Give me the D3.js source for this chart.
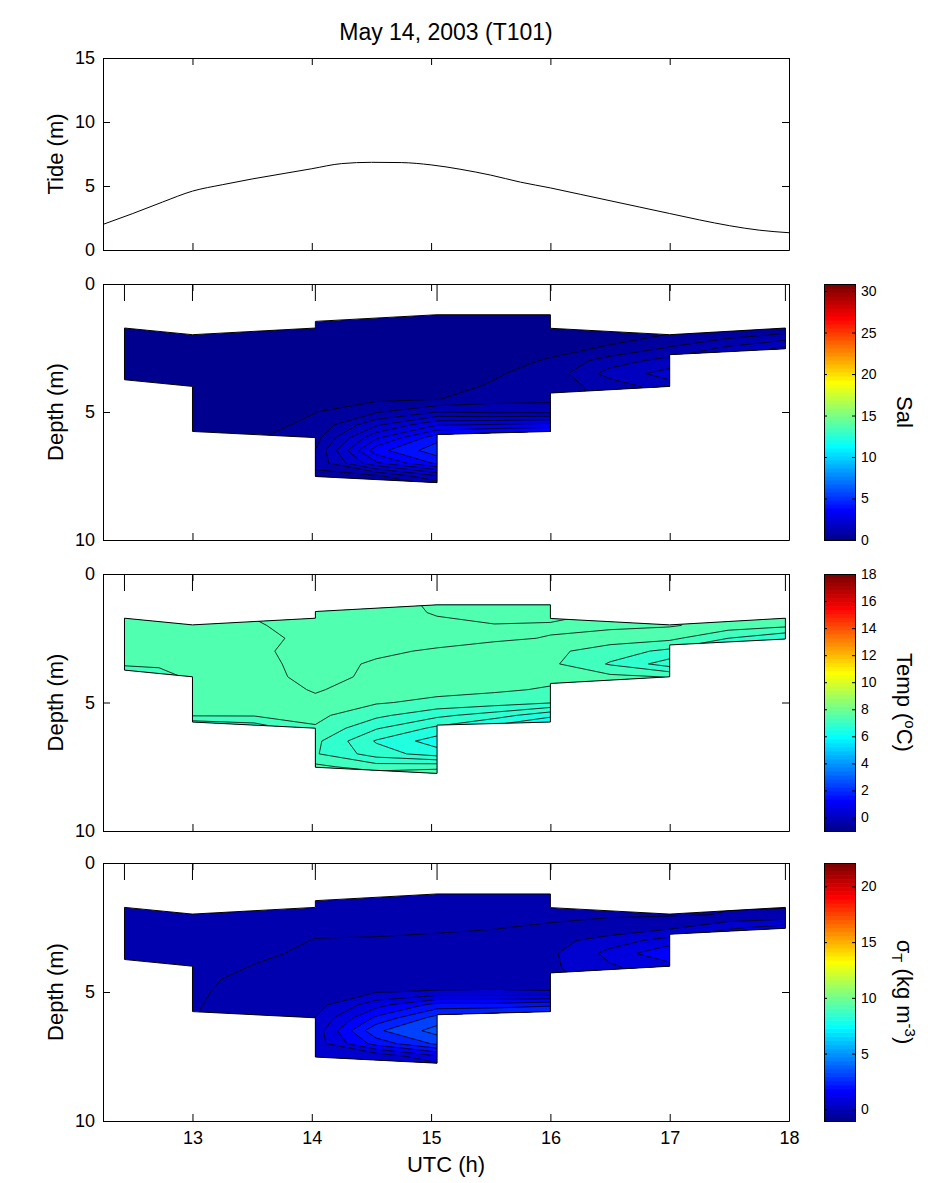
<!DOCTYPE html>
<html>
<head>
<meta charset="utf-8">
<script src="https://cdn.jsdelivr.net/npm/d3@7"></script>
<style>
  body { margin: 0; background: #fff; }
  svg { display: block; }
  text { font-family: Arial, "Liberation Sans", sans-serif; }
</style>
</head>
<body>
<svg width="943" height="1183"></svg>
<script>
const svg = d3.select('svg');

// ---------- data ----------
const title = 'May 14, 2003 (T101)';
const xTicks = [13, 14, 15, 16, 17, 18];

const tideTime = [12.25, 12.5, 12.75, 13.0, 13.25, 13.5, 13.75, 14.0, 14.25, 14.5, 14.75, 15.0,
                  15.25, 15.5, 15.75, 16.0, 16.25, 16.5, 16.75, 17.0, 17.25, 17.5, 17.75, 18.0];
const tideHeight = [2.0, 2.85, 3.75, 4.6, 5.1, 5.55, 5.95, 6.35, 6.75, 6.85, 6.83, 6.65,
                    6.3, 5.85, 5.3, 4.85, 4.35, 3.85, 3.35, 2.85, 2.35, 1.9, 1.55, 1.35];
const tideTicks = [0, 5, 10, 15];
const depthTicks = [0, 5, 10];

// cast times (short marks on top of the sections)
const stationTime = [12.43, 13.0, 14.03, 15.05, 16.0, 17.0, 17.97];

// section grid: columns = time, rows = depth
const gridTime = [12.43, 12.72, 13.0, 13.52, 14.03, 14.54, 15.05, 15.53, 16.0, 16.5, 17.0, 17.49, 17.97];
const gridDepth = [1.0, 1.5, 2.0, 2.5, 3.0, 3.5, 4.0, 4.5, 5.0, 5.5, 6.0, 6.5, 7.0, 7.5, 8.0];

// sampled area (time, depth)
const outlineTime  = [12.43, 13.0, 14.03, 14.03, 15.05, 16.0, 16.0, 17.0, 17.97, 17.97, 17.0, 17.0, 16.0, 16.0, 15.05, 15.05, 14.03, 14.03, 13.0, 13.0, 12.43];
const outlineDepth = [1.72, 1.98, 1.72, 1.46, 1.2, 1.2, 1.73, 1.98, 1.72, 2.53, 2.76, 4.0, 4.26, 5.76, 5.88, 7.76, 7.52, 6.0, 5.76, 4.0, 3.74];

const salGrid = [
  [0.10,0.10,0.10,0.10,0.10,0.10,0.10,0.10,0.12,0.20,0.30,0.35,0.35],
  [0.10,0.10,0.10,0.10,0.10,0.10,0.10,0.12,0.15,0.25,0.35,0.40,0.40],
  [0.10,0.10,0.10,0.12,0.12,0.12,0.15,0.18,0.25,0.35,0.52,0.80,1.10],
  [0.10,0.12,0.12,0.14,0.15,0.18,0.20,0.25,0.35,0.55,1.05,1.60,2.10],
  [0.12,0.15,0.15,0.16,0.18,0.20,0.25,0.32,0.55,1.25,1.70,2.10,2.40],
  [0.15,0.18,0.18,0.19,0.20,0.22,0.30,0.45,0.70,1.70,2.20,2.30,2.40],
  [0.18,0.20,0.20,0.22,0.25,0.28,0.35,0.55,0.75,1.20,1.80,1.95,2.20],
  [0.20,0.22,0.22,0.25,0.30,0.40,0.48,0.80,0.85,1.10,1.50,1.80,1.95],
  [0.22,0.25,0.25,0.30,0.49,0.95,1.50,1.40,1.40,1.10,1.30,1.60,1.80],
  [0.25,0.28,0.30,0.35,0.60,1.90,2.95,3.05,3.20,1.45,1.30,1.45,1.70],
  [0.28,0.30,0.35,0.45,0.80,2.90,4.30,4.60,4.60,1.90,1.40,1.45,1.60],
  [0.30,0.32,0.38,0.48,1.02,3.80,4.80,4.80,4.60,2.40,1.45,1.45,1.60],
  [0.30,0.32,0.40,0.48,1.10,2.90,4.10,4.20,3.90,2.40,1.45,1.45,1.60],
  [0.30,0.32,0.40,0.45,0.90,0.90,1.95,3.20,2.90,2.20,1.45,1.45,1.60],
  [0.30,0.32,0.40,0.42,0.60,0.45,0.80,2.20,2.05,1.80,1.45,1.45,1.60]
];
const salLevels = [0.5, 1, 1.5, 2, 2.5, 3, 3.5, 4, 4.5];
const salRange = [0, 30.85];
const salTicks = [0, 5, 10, 15, 20, 25, 30];

const tempGrid = [
  [7.50,7.50,7.50,7.62,7.70,7.70,7.55,7.50,7.50,7.61,7.61,7.55,7.55],
  [7.50,7.50,7.50,7.62,7.70,7.70,7.58,7.52,7.50,7.62,7.62,7.56,7.55],
  [7.50,7.50,7.50,7.58,7.68,7.68,7.65,7.61,7.63,7.65,7.62,7.52,7.45],
  [7.50,7.50,7.52,7.52,7.68,7.66,7.66,7.63,7.59,7.50,7.45,7.20,7.02],
  [7.50,7.50,7.52,7.56,7.68,7.63,7.58,7.52,7.45,7.30,7.15,6.98,6.90],
  [7.45,7.48,7.50,7.55,7.66,7.58,7.52,7.50,7.44,7.18,6.90,7.02,6.90],
  [7.10,7.21,7.50,7.54,7.65,7.57,7.50,7.47,7.45,7.45,7.39,7.21,7.10],
  [7.05,7.05,7.48,7.48,7.62,7.50,7.46,7.43,7.38,7.50,7.50,7.41,7.30],
  [7.05,7.05,7.46,7.45,7.55,7.42,7.35,7.30,7.22,7.50,7.50,7.41,7.30],
  [7.05,7.05,7.42,7.42,7.45,7.25,7.05,6.90,6.65,7.41,7.50,7.41,7.30],
  [7.05,7.05,6.90,7.05,7.38,7.02,6.75,6.50,6.30,7.21,7.50,7.41,7.30],
  [7.05,7.05,6.70,6.85,7.25,6.78,6.50,6.35,6.30,7.01,7.50,7.41,7.30],
  [7.05,7.05,6.70,6.85,7.22,6.90,6.70,6.55,6.50,7.01,7.50,7.41,7.30],
  [7.05,7.05,6.80,6.90,7.45,7.30,7.35,7.10,7.05,7.10,7.50,7.41,7.30],
  [7.05,7.05,7.05,7.10,7.61,7.61,7.61,7.50,7.41,7.30,7.50,7.41,7.30]
];
const tempLevels = [6.4, 6.6, 6.8, 7.0, 7.2, 7.4, 7.6];
const tempRange = [-1, 18];
const tempTicks = [0, 2, 4, 6, 8, 10, 12, 14, 16, 18];

const sigmaGrid = [
  [-0.25,-0.25,-0.25,-0.22,-0.20,-0.20,-0.20,-0.18,-0.15,-0.10,-0.08,-0.05,-0.15],
  [-0.25,-0.25,-0.25,-0.20,-0.15,-0.15,-0.15,-0.12,-0.10,-0.06,-0.06,-0.04,-0.10],
  [-0.25,-0.25,-0.22,-0.18,-0.10,-0.10,-0.10,-0.06,-0.05,-0.03,-0.05,0.02,0.10],
  [-0.22,-0.22,-0.20,-0.15,-0.05,-0.05,-0.04,-0.01,0.03,0.10,0.40,0.90,1.20],
  [-0.20,-0.20,-0.18,-0.10,0.01,0.02,0.05,0.06,0.30,0.75,1.20,1.60,1.80],
  [-0.18,-0.18,-0.15,-0.05,0.05,0.08,0.10,0.15,0.40,1.15,1.95,1.90,2.05],
  [-0.15,-0.15,-0.12,0.01,0.10,0.12,0.15,0.25,0.40,0.95,1.30,1.60,1.80],
  [-0.12,-0.12,-0.08,0.09,0.15,0.18,0.22,0.30,0.35,0.80,1.10,1.40,1.60],
  [-0.10,-0.10,-0.05,0.12,0.20,0.48,0.55,0.55,0.52,0.80,1.05,1.30,1.55],
  [-0.10,-0.08,-0.03,0.15,0.30,1.30,2.20,2.20,2.40,1.20,1.05,1.20,1.40],
  [-0.10,-0.06,-0.01,0.20,0.52,2.10,3.20,3.45,3.45,1.60,1.10,1.20,1.30],
  [-0.10,-0.05,-0.01,0.22,0.70,2.90,3.70,3.70,3.45,1.95,1.20,1.20,1.30],
  [-0.10,-0.05,-0.01,0.22,0.75,2.20,3.10,3.20,3.20,1.95,1.20,1.20,1.30],
  [-0.10,-0.05,-0.01,0.20,0.60,0.60,1.40,2.40,2.40,1.80,1.20,1.20,1.30],
  [-0.10,-0.05,-0.01,0.18,0.40,0.30,0.55,1.55,1.60,1.45,1.20,1.20,1.30]
];
const sigmaLevels = [0, 0.5, 1, 1.5, 2, 2.5, 3, 3.5];
const sigmaRange = [-1.05, 22.1];
const sigmaTicks = [0, 5, 10, 15, 20];

// ---------- layout ----------
const left = 103, right = 789;
const cbLeft = 824, cbRight = 855;
const tideBox = {top: 58, bottom: 250};
const tickLen = 7;
const intFormat = d3.format('d');

const x = d3.scaleLinear().domain([12.25, 18]).range([left, right]);

// MATLAB style 64 colour jet
const jet = (() => {
  const n = 16, m = 64;
  const u = d3.range(1, n + 1).map(i => i / n)
    .concat(d3.range(n - 1).map(() => 1))
    .concat(d3.range(n, 0, -1).map(i => i / n));
  const rgb = d3.range(m).map(() => [0, 0, 0]);
  u.forEach((v, j) => {
    const g = 8 + j, r = g + n, b = g - n;
    if (g < m) rgb[g][1] = v;
    if (r < m) rgb[r][0] = v;
    if (b >= 0) rgb[b][2] = v;
  });
  return rgb.map(c => d3.rgb(c[0] * 255, c[1] * 255, c[2] * 255).formatHex());
})();
const colorFor = (v, range) => {
  const k = Math.floor((v - range[0]) / (range[1] - range[0]) * 64);
  return jet[Math.max(0, Math.min(63, k))];
};

const styleAxis = (sel, size) => {
  sel.attr('font-size', size).attr('font-family', 'Arial, "Liberation Sans", sans-serif');
  sel.selectAll('text').attr('fill', '#000');
  sel.selectAll('line, path').attr('stroke', '#000');
};

// ---------- title ----------
svg.append('text')
  .attr('x', (left + right) / 2).attr('y', 40)
  .attr('text-anchor', 'middle').attr('font-size', 23)
  .text(title);

// ---------- tide panel ----------
{
  const y = d3.scaleLinear().domain([0, 15]).range([tideBox.bottom, tideBox.top]);
  const g = svg.append('g');
  g.append('g').attr('transform', `translate(${left},0)`)
    .call(d3.axisLeft(y).tickValues(tideTicks).tickFormat(intFormat).tickSizeInner(-tickLen).tickSizeOuter(0).tickPadding(8))
    .call(s => styleAxis(s, 18));
  g.append('g').attr('transform', `translate(${right},0)`)
    .call(d3.axisRight(y).tickValues(tideTicks).tickSizeInner(-tickLen).tickSizeOuter(0).tickFormat(''))
    .call(s => styleAxis(s, 18));
  g.append('g').attr('transform', `translate(0,${tideBox.bottom})`)
    .call(d3.axisBottom(x).tickValues(xTicks).tickSizeInner(-tickLen).tickSizeOuter(0).tickFormat(''))
    .call(s => styleAxis(s, 18));
  g.append('g').attr('transform', `translate(0,${tideBox.top})`)
    .call(d3.axisTop(x).tickValues(xTicks).tickSizeInner(-tickLen).tickSizeOuter(0).tickFormat(''))
    .call(s => styleAxis(s, 18));

  g.append('path')
    .datum(tideTime.map((t, i) => [t, tideHeight[i]]))
    .attr('d', d3.line().x(d => x(d[0])).y(d => y(d[1])).curve(d3.curveMonotoneX))
    .attr('fill', 'none').attr('stroke', '#000').attr('stroke-width', 1);

  svg.append('text')
    .attr('transform', `translate(63,${(tideBox.top + tideBox.bottom) / 2}) rotate(-90)`)
    .attr('text-anchor', 'middle').attr('font-size', 22)
    .text('Tide (m)');
}

// ---------- section panels ----------
const nx = gridTime.length, ny = gridDepth.length;
const colAt = d3.scaleLinear().domain(d3.range(nx)).range(gridTime);
const rowAt = d3.scaleLinear().domain(d3.range(ny)).range(gridDepth);

const panels = [
  {top: 284, bottom: 540, grid: salGrid, levels: salLevels, range: salRange, ticks: salTicks, label: 'sal'},
  {top: 574, bottom: 831, grid: tempGrid, levels: tempLevels, range: tempRange, ticks: tempTicks, label: 'temp'},
  {top: 863, bottom: 1121, grid: sigmaGrid, levels: sigmaLevels, range: sigmaRange, ticks: sigmaTicks, label: 'sigma'}
];

panels.forEach((p, i) => {
  const y = d3.scaleLinear().domain([0, 10]).range([p.top, p.bottom]);
  const g = svg.append('g');

  const outline = d3.line()(outlineTime.map((t, k) => [x(t), y(outlineDepth[k])])) + 'Z';
  svg.append('clipPath').attr('id', 'clip' + i).append('path').attr('d', outline);

  const values = p.grid.flat();
  const proj = d3.geoTransform({
    point(cx, cy) { this.stream.point(x(colAt(cx - 0.5)), y(rowAt(cy - 0.5))); }
  });
  const path = d3.geoPath(proj);
  const bands = d3.contours().size([nx, ny]).thresholds(p.levels)(values);

  const field = g.append('g').attr('clip-path', `url(#clip${i})`);
  field.append('path').attr('d', outline).attr('fill', colorFor(d3.min(values), p.range));
  field.selectAll('path.band').data(bands).join('path')
    .attr('class', 'band')
    .attr('d', path)
    .attr('fill', d => colorFor(d.value, p.range))
    .attr('stroke', '#000').attr('stroke-width', 0.8);
  g.append('path').attr('d', outline)
    .attr('fill', 'none').attr('stroke', '#000').attr('stroke-width', 1);

  // cast marks
  g.selectAll('line.station').data(stationTime).join('line')
    .attr('class', 'station')
    .attr('x1', d => x(d)).attr('x2', d => x(d))
    .attr('y1', p.top).attr('y2', p.top + 17)
    .attr('stroke', '#000');

  // axes
  g.append('g').attr('transform', `translate(${left},0)`)
    .call(d3.axisLeft(y).tickValues(depthTicks).tickFormat(intFormat).tickSizeInner(-tickLen).tickSizeOuter(0).tickPadding(8))
    .call(s => styleAxis(s, 18));
  g.append('g').attr('transform', `translate(${right},0)`)
    .call(d3.axisRight(y).tickValues(depthTicks).tickSizeInner(-tickLen).tickSizeOuter(0).tickFormat(''))
    .call(s => styleAxis(s, 18));
  const xb = d3.axisBottom(x).tickValues(xTicks).tickSizeInner(-tickLen).tickSizeOuter(0).tickPadding(10)
    .tickFormat(i < panels.length - 1 ? '' : intFormat);
  g.append('g').attr('transform', `translate(0,${p.bottom})`).call(xb).call(s => styleAxis(s, 18));
  g.append('g').attr('transform', `translate(0,${p.top})`)
    .call(d3.axisTop(x).tickValues(xTicks).tickSizeInner(-tickLen).tickSizeOuter(0).tickFormat(''))
    .call(s => styleAxis(s, 18));

  svg.append('text')
    .attr('transform', `translate(63,${(p.top + p.bottom) / 2}) rotate(-90)`)
    .attr('text-anchor', 'middle').attr('font-size', 22)
    .text('Depth (m)');

  // colorbar
  const cy = d3.scaleLinear().domain(p.range).range([p.bottom, p.top]);
  const step = (p.range[1] - p.range[0]) / jet.length;
  const cb = svg.append('g');
  cb.selectAll('rect.cell').data(jet).join('rect')
    .attr('class', 'cell')
    .attr('x', cbLeft).attr('width', cbRight - cbLeft)
    .attr('y', (c, k) => cy(p.range[0] + (k + 1) * step))
    .attr('height', (c, k) => cy(p.range[0] + k * step) - cy(p.range[0] + (k + 1) * step) + 0.6)
    .attr('fill', c => c);
  cb.append('g').attr('transform', `translate(${cbRight},0)`)
    .call(d3.axisRight(cy).tickValues(p.ticks).tickFormat(intFormat).tickSizeInner(-3).tickSizeOuter(0).tickPadding(6))
    .call(s => styleAxis(s, 14));
  cb.append('g').attr('transform', `translate(${cbLeft},0)`)
    .call(d3.axisLeft(cy).tickValues(p.ticks).tickSizeInner(-3).tickSizeOuter(0).tickFormat(''))
    .call(s => styleAxis(s, 14));
  cb.append('rect')
    .attr('x', cbLeft + 0.5).attr('y', p.top + 0.5)
    .attr('width', cbRight - cbLeft).attr('height', p.bottom - p.top)
    .attr('fill', 'none').attr('stroke', '#000');

  const lab = svg.append('text')
    .attr('transform', `translate(897,${(p.top + p.bottom) / 2}) rotate(90)`)
    .attr('text-anchor', 'middle').attr('font-size', 22);
  if (p.label === 'sal') {
    lab.text('Sal');
  } else if (p.label === 'temp') {
    lab.append('tspan').text('Temp (');
    lab.append('tspan').attr('font-size', 15).attr('dy', -8).text('o');
    lab.append('tspan').attr('dy', 8).text('C)');
  } else {
    lab.append('tspan').text('σ');
    lab.append('tspan').attr('font-size', 15).attr('dy', 5).text('T');
    lab.append('tspan').attr('dy', -5).text(' (kg m');
    lab.append('tspan').attr('font-size', 15).attr('dy', -8).text('-3');
    lab.append('tspan').attr('dy', 8).text(')');
  }
});

svg.append('text')
  .attr('x', (left + right) / 2).attr('y', 1172)
  .attr('text-anchor', 'middle').attr('font-size', 22)
  .text('UTC (h)');
</script>
</body>
</html>
